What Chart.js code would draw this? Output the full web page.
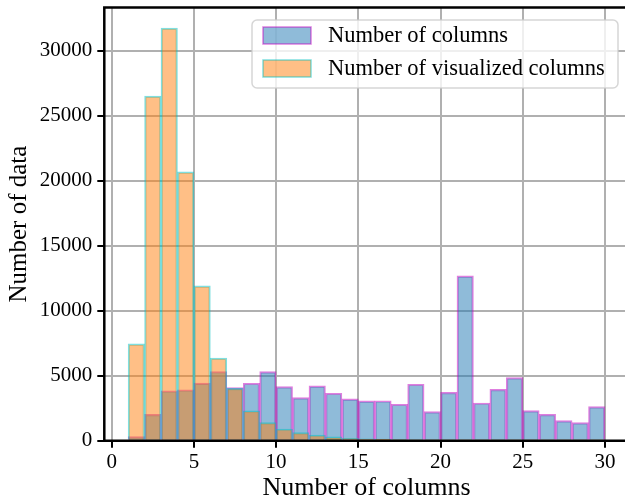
<!DOCTYPE html>
<html>
<head>
<meta charset="utf-8">
<script src="https://cdn.jsdelivr.net/npm/chart.js@4/dist/chart.umd.min.js"></script>
<style>
  html, body { margin: 0; padding: 0; overflow: hidden; background: #fff; }
  canvas { display: block; }
</style>
</head>
<body>
<canvas id="hist" width="640" height="502"></canvas>
<script>
// Histogram bins: edges at 1, 2, ..., 30 (29 bins of width 1)
const binEdges = [1, 2, 3, 4, 5, 6, 7, 8, 9, 10, 11, 12, 13, 14, 15, 16, 17, 18, 19, 20,
                  21, 22, 23, 24, 25, 26, 27, 28, 29, 30];

// Counts per bin
const columnCounts = [310, 2030, 3840, 3920, 4430, 5320, 4080, 4420, 5310, 4160,
                      3310, 4210, 3650, 3210, 3060, 3070, 2800, 4340, 2240, 3720,
                      12670, 2900, 3950, 4850, 2310, 2030, 1540, 1390, 2620];
const visualizedCounts = [7450, 26490, 31720, 20670, 11900, 6350, 4020, 2300, 1390, 900,
                          620, 440, 290, 190, 150, 120, 90, 60, 40, 30,
                          30, 70, 50, 20, 10, 10, 5, 5, 5];

const seriesLabels = ['Number of columns', 'Number of visualized columns'];
const xTitle = 'Number of columns';
const yTitle = 'Number of data';
const xTickValues = [0, 5, 10, 15, 20, 25, 30];
const yTickValues = [0, 5000, 10000, 15000, 20000, 25000, 30000];

const FONT = '"Liberation Serif", "Times New Roman", serif';

// axis ranges with 5% margins around the data
const xSpan = binEdges[binEdges.length - 1] - binEdges[0];
const xMin = binEdges[0] - 0.05 * xSpan;
const xMax = binEdges[binEdges.length - 1] + 0.05 * xSpan;
const yMax = Math.max(...columnCounts, ...visualizedCounts) * 1.05;

const toBins = counts => counts.map((v, i) => ({ x: (binEdges[i] + binEdges[i + 1]) / 2, y: v }));

const styles = [
  { fill: 'rgba(31,119,180,0.5)', edge: 'rgba(191,0,191,0.5)' },
  { fill: 'rgba(255,127,14,0.5)', edge: 'rgba(0,191,191,0.5)' }
];

// frame lines around the plotting area
const framePlugin = {
  id: 'frame',
  afterDraw(chart) {
    const { ctx, chartArea: a } = chart;
    ctx.save();
    ctx.strokeStyle = '#000';
    ctx.lineWidth = 2.5;
    ctx.lineCap = 'square';
    ctx.beginPath();
    ctx.moveTo(a.left, a.bottom); ctx.lineTo(a.left, a.top);
    ctx.lineTo(a.right, a.top); ctx.lineTo(a.right, a.bottom);
    ctx.closePath();
    ctx.stroke();
    ctx.restore();
  }
};

// boxed legend in the upper right of the plot
const boxLegendPlugin = {
  id: 'boxLegend',
  afterDraw(chart) {
    const { ctx } = chart;
    const box = { x: 252, y: 20, w: 366, h: 68, r: 5 };
    ctx.save();
    ctx.beginPath();
    ctx.roundRect(box.x, box.y, box.w, box.h, box.r);
    ctx.fillStyle = 'rgba(255,255,255,0.8)';
    ctx.fill();
    ctx.lineWidth = 1.5;
    ctx.strokeStyle = 'rgba(204,204,204,0.8)';
    ctx.stroke();
    chart.data.datasets.forEach((ds, i) => {
      const sy = 27 + i * 33;
      ctx.fillStyle = ds.backgroundColor;
      ctx.fillRect(263, sy, 48, 17);
      ctx.lineWidth = 1.5;
      ctx.strokeStyle = ds.borderColor;
      ctx.strokeRect(263, sy, 48, 17);
      ctx.fillStyle = '#000';
      ctx.font = '22.5px ' + FONT;
      ctx.textBaseline = 'middle';
      ctx.textAlign = 'left';
      ctx.fillText(ds.label, 328, sy + 9);
    });
    ctx.restore();
  }
};

const gridOpts = {
  color: '#b0b0b0',
  lineWidth: 2,
  tickColor: '#000',
  tickWidth: 2,
  tickLength: 7,
  offset: false
};

const fixedTicks = values => scale => { scale.ticks = values.map(v => ({ value: v })); };
const fitBox = (prop, size) => s => {
  s[prop] = size;
  s.paddingTop = 0; s.paddingBottom = 0; s.paddingLeft = 0; s.paddingRight = 0;
};

new Chart(document.getElementById('hist'), {
  type: 'bar',
  data: {
    datasets: [
      {
        label: seriesLabels[0],
        data: toBins(columnCounts),
        backgroundColor: styles[0].fill,
        borderColor: styles[0].edge,
        borderWidth: 1.5,
        order: 1
      },
      {
        label: seriesLabels[1],
        data: toBins(visualizedCounts),
        backgroundColor: styles[1].fill,
        borderColor: styles[1].edge,
        borderWidth: 1.5,
        order: 0
      }
    ]
  },
  options: {
    responsive: false,
    animation: false,
    devicePixelRatio: 1,
    grouped: false,
    barPercentage: 1,
    categoryPercentage: 1,
    layout: { padding: { top: 7.5, right: 11.2, left: 0, bottom: 0 } },
    plugins: {
      legend: { display: false },
      tooltip: { enabled: false }
    },
    scales: {
      x: {
        type: 'linear',
        min: xMin,
        max: xMax,
        offset: false,
        z: 1,
        border: { display: false },
        grid: gridOpts,
        afterBuildTicks: fixedTicks(xTickValues),
        ticks: {
          autoSkip: false,
          maxRotation: 0,
          padding: 2,
          color: '#000',
          font: { family: FONT, size: 21 },
          callback: v => String(v)
        },
        title: {
          display: true,
          text: xTitle,
          color: '#000',
          font: { family: FONT, size: 26, lineHeight: 1 },
          padding: { top: 0, bottom: 1 }
        },
        afterFit: fitBox('height', 61.3)
      },
      y: {
        type: 'linear',
        min: 0,
        max: yMax,
        z: 1,
        border: { display: false },
        grid: gridOpts,
        afterBuildTicks: fixedTicks(yTickValues),
        ticks: {
          autoSkip: false,
          padding: 5,
          color: '#000',
          font: { family: FONT, size: 21 },
          callback: v => String(v)
        },
        title: {
          display: true,
          text: yTitle,
          color: '#000',
          font: { family: FONT, size: 25, lineHeight: 1 },
          padding: { top: 6.5, bottom: 0 }
        },
        afterFit: fitBox('width', 104.3)
      }
    }
  },
  plugins: [framePlugin, boxLegendPlugin]
});
</script>
</body>
</html>
